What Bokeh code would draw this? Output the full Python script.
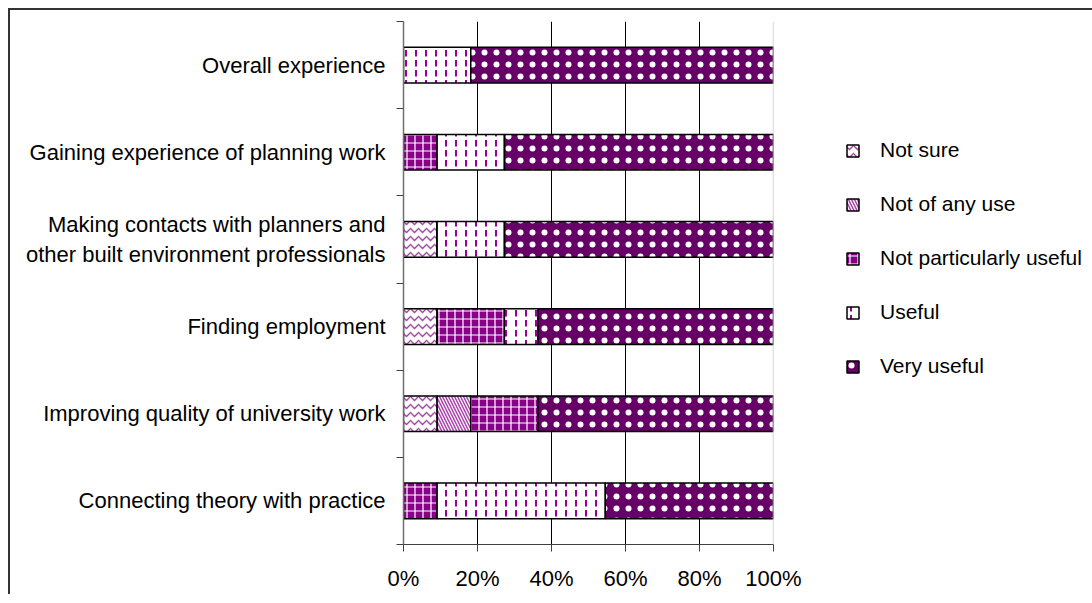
from bokeh.plotting import figure
from bokeh.models import (Range1d, FixedTicker, PrintfTickFormatter, Legend, LegendItem,
                          Span, ColumnDataSource)
from bokeh.embed import file_html
from bokeh.resources import INLINE

categories = [
    "Connecting theory with practice",
    "Improving quality of university work",
    "Finding employment",
    "Making contacts with planners and\nother built environment professionals",
    "Gaining experience of planning work",
    "Overall experience",
]
series = ["Not sure", "Not of any use", "Not particularly useful", "Useful", "Very useful"]
not_sure = [0, 9.09, 9.09, 9.09, 0, 0]
not_of_any_use = [0, 9.09, 0, 0, 0, 0]
not_particularly_useful = [9.09, 18.18, 18.18, 0, 9.09, 0]
useful = [45.45, 0, 9.09, 18.18, 18.18, 18.18]
very_useful = [45.45, 63.64, 63.64, 72.73, 72.73, 81.82]
x_ticks = [0, 20, 40, 60, 80, 100]

FONT = "Liberation Sans"
n = len(categories)
centers = [i + 0.5 for i in range(n)]

source = ColumnDataSource(dict(
    y=centers,
    s0=not_sure, s1=not_of_any_use, s2=not_particularly_useful, s3=useful, s4=very_useful,
))

p = figure(output_backend="svg", toolbar_location=None,
           x_range=Range1d(0, 100), y_range=Range1d(0, n),
           frame_width=370, frame_height=523,
           min_border_left=393, min_border_right=0, min_border_top=11, min_border_bottom=50)
p.outline_line_color = None
p.background_fill_color = "white"
p.border_fill_color = "white"
p.styles = {"border-left": "2px solid #333333", "border-top": "2px solid #333333",
            "margin-left": "8px", "margin-top": "8px"}

fills = ["white", "white", "#880088", "white", "#660066"]
hatches = ["horizontal_wave", "left_diagonal_line", "cross", "vertical_dash", "dot"]
hcolors = ["#AA44AA", "#AA44AA", "white", "#990099", "white"]
hscales = [8, 6, 8, 10, 12]
hweights = [1.3, 1.5, 1.2, 2, 0.4]

renderers = p.hbar_stack(["s0", "s1", "s2", "s3", "s4"], y="y", height=0.41, source=source,
                         fill_color=fills, hatch_pattern=hatches, hatch_color=hcolors,
                         hatch_scale=hscales, hatch_weight=hweights,
                         line_color="black", line_width=1.5)

# grid
p.xgrid.ticker = FixedTicker(ticks=[20, 40, 60, 80])
p.xgrid.grid_line_color = "black"
p.xgrid.grid_line_width = 1
p.ygrid.grid_line_color = None
p.add_layout(Span(location=100, dimension="height", line_color="#c8c8c8", line_width=1.5))

# x axis
p.xaxis.ticker = FixedTicker(ticks=x_ticks)
p.xaxis.formatter = PrintfTickFormatter(format="%d%%")
p.xaxis.axis_line_color = "#404040"
p.xaxis.major_tick_line_color = "#404040"
p.xaxis.major_tick_out = 7
p.xaxis.major_tick_in = 0
p.xaxis.minor_tick_line_color = None
p.xaxis.major_label_standoff = 14
p.xaxis.major_label_text_font = FONT
p.xaxis.major_label_text_font_size = "22px"
p.xaxis.major_label_text_color = "black"

# y axis
p.yaxis.ticker = FixedTicker(ticks=centers, minor_ticks=list(range(n + 1)))
p.yaxis.major_label_overrides = {c: lab for c, lab in zip(centers, categories)}
p.yaxis.major_tick_line_color = None
p.yaxis.major_tick_out = 0
p.yaxis.major_tick_in = 0
p.yaxis.minor_tick_line_color = "#404040"
p.yaxis.minor_tick_out = 7
p.yaxis.minor_tick_in = 0
p.yaxis.axis_line_color = "#707070"
p.yaxis.axis_line_width = 1.5
p.yaxis.major_label_standoff = 11
p.yaxis.major_label_text_font = FONT
p.yaxis.major_label_text_font_size = "22px"
p.yaxis.major_label_text_color = "black"

legend = Legend(items=[LegendItem(label=s, renderers=[r]) for s, r in zip(series, renderers)],
                location=(72, 166), orientation="vertical",
                glyph_width=15, glyph_height=15, label_height=24, spacing=30,
                label_standoff=20, padding=0, margin=0,
                border_line_color=None, background_fill_alpha=0,
                label_text_font=FONT, label_text_font_size="21px", label_text_color="black")
p.add_layout(legend, "right")

open("out.html", "w").write(file_html(p, INLINE))
